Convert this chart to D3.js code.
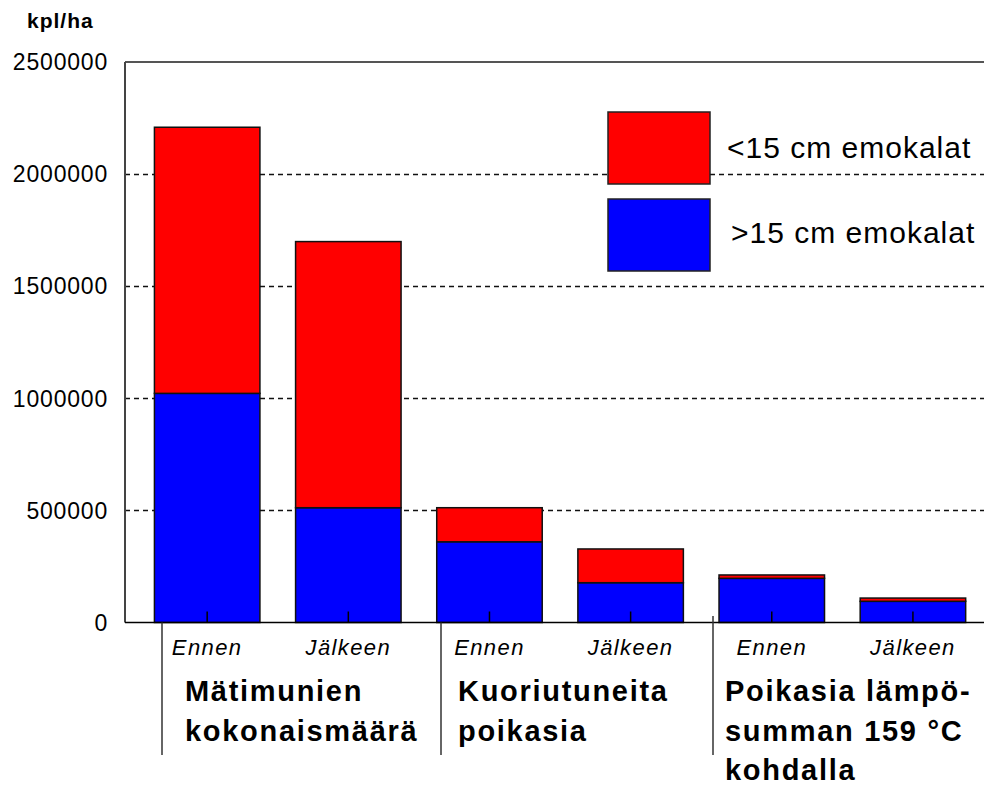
<!DOCTYPE html>
<html>
<head>
<meta charset="utf-8">
<script src="https://cdn.jsdelivr.net/npm/d3@7"></script>
<style>
	body { margin: 0; background: #fff; }
	text { font-family: "Liberation Sans", Arial, sans-serif; fill: #000; }
</style>
</head>
<body>
<div id="main"></div>
<script>
// Data (kpl/ha)
var categories = ["Ennen", "Jälkeen", "Ennen", "Jälkeen", "Ennen", "Jälkeen"];
var groupIndex = [0, 0, 1, 1, 2, 2];
var yli15 = [1022000, 512000, 360000, 177500, 197000, 94500];    // >15 cm emokalat (blue)
var alle15 = [1187000, 1187000, 152000, 150500, 15000, 14500];   // <15 cm emokalat (red)
var yTicks = [0, 500000, 1000000, 1500000, 2000000, 2500000];
var groupLabels = [
	["Mätimunien", "kokonaismäärä"],
	["Kuoriutuneita", "poikasia"],
	["Poikasia lämpö-", "summan 159 °C", "kohdalla"]
];
var seriesKeys = ["yli15", "alle15"];
var seriesNames = { yli15: ">15 cm emokalat", alle15: "<15 cm emokalat" };
var seriesColors = { yli15: "#0000ff", alle15: "#ff0000" };

// Layout constants
var width = 984;
var height = 788;
var plotLeft = 125;
var plotTop = 62;
var plotBottom = 622.5;
var plotRight = 984;

// Table for the stack
var rows = categories.map(function(c, i) {
	return { id: i, cat: c, yli15: yli15[i], alle15: alle15[i] };
});

var svg = d3.select("#main").append("svg")
	.attr("width", width)
	.attr("height", height);

var x = d3.scaleBand()
	.domain(rows.map(function(d) { return d.id; }))
	.range([136.6, 983.5])
	.paddingInner(0.2526)
	.paddingOuter(0.1263);

var y = d3.scaleLinear()
	.domain([0, 2500000])
	.range([plotBottom, plotTop]);

// Dashed grid lines
svg.append("g").selectAll("line")
	.data(yTicks.filter(function(t) { return t > 0 && t < 2500000; }))
	.enter().append("line")
	.attr("x1", plotLeft)
	.attr("x2", plotRight)
	.attr("y1", function(d) { return Math.round(y(d)) + 0.5; })
	.attr("y2", function(d) { return Math.round(y(d)) + 0.5; })
	.attr("stroke", "#111")
	.attr("stroke-width", 1.4)
	.attr("stroke-dasharray", "5,4");

// Frame: top and left
svg.append("line")
	.attr("x1", plotLeft).attr("x2", plotRight)
	.attr("y1", plotTop).attr("y2", plotTop)
	.attr("stroke", "#555").attr("stroke-width", 2);
svg.append("line")
	.attr("x1", plotLeft).attr("x2", plotLeft)
	.attr("y1", plotTop).attr("y2", plotBottom)
	.attr("stroke", "#444").attr("stroke-width", 2);

// Y tick labels
svg.append("g").selectAll("text")
	.data(yTicks)
	.enter().append("text")
	.attr("x", 108)
	.attr("y", function(d) { return y(d); })
	.attr("dy", "0.36em")
	.attr("text-anchor", "end")
	.attr("font-size", 23)
	.attr("letter-spacing", 0.8)
	.text(function(d) { return d; });

svg.append("text")
	.attr("x", 27)
	.attr("y", 28)
	.attr("font-size", 21)
	.attr("font-weight", "bold")
	.attr("letter-spacing", 1)
	.text("kpl/ha");

// Stacked bars
var stacked = d3.stack().keys(seriesKeys)(rows);

svg.append("g").selectAll("g")
	.data(stacked)
	.enter().append("g")
	.attr("fill", function(s) { return seriesColors[s.key]; })
	.selectAll("rect")
	.data(function(s) { return s; })
	.enter().append("rect")
	.attr("x", function(d) { return x(d.data.id); })
	.attr("y", function(d) { return y(d[1]); })
	.attr("width", x.bandwidth())
	.attr("height", function(d) { return y(d[0]) - y(d[1]); })
	.attr("stroke", "#111")
	.attr("stroke-width", 1.5);

// X axis line and inner ticks
svg.append("line")
	.attr("x1", plotLeft).attr("x2", plotRight)
	.attr("y1", plotBottom).attr("y2", plotBottom)
	.attr("stroke", "#000").attr("stroke-width", 1.5);

svg.append("g").selectAll("line")
	.data(rows)
	.enter().append("line")
	.attr("x1", function(d) { return x(d.id) + x.bandwidth() / 2; })
	.attr("x2", function(d) { return x(d.id) + x.bandwidth() / 2; })
	.attr("y1", plotBottom)
	.attr("y2", plotBottom - 11)
	.attr("stroke", "#000")
	.attr("stroke-width", 1.5);

// Ennen / Jälkeen labels
svg.append("g").selectAll("text")
	.data(rows)
	.enter().append("text")
	.attr("x", function(d) { return x(d.id) + x.bandwidth() / 2; })
	.attr("y", 655)
	.attr("text-anchor", "middle")
	.attr("font-size", 22)
	.attr("font-style", "italic")
	.attr("letter-spacing", 1.4)
	.text(function(d) { return d.cat; });

// Group dividers and group labels
var dividerX = [162, 441, 713];
var dividerTop = [plotBottom, plotBottom, 616];
var labelX = [185, 458, 725];

dividerX.forEach(function(dx, i) {
	svg.append("line")
		.attr("x1", dx).attr("x2", dx)
		.attr("y1", dividerTop[i]).attr("y2", 755)
		.attr("stroke", "#333")
		.attr("stroke-width", 1.5);
});

groupLabels.forEach(function(lines, i) {
	var t = svg.append("text")
		.attr("x", labelX[i])
		.attr("y", 701)
		.attr("font-size", 29)
		.attr("font-weight", "bold")
		.attr("letter-spacing", 1.7);
	lines.forEach(function(l, j) {
		t.append("tspan")
			.attr("x", labelX[i])
			.attr("y", 701 + j * 39.5)
			.text(l);
	});
});

// Legend
var legendItems = [
	{ key: "alle15", rx: 608, ry: 112, tx: 727, ty: 158 },
	{ key: "yli15", rx: 608, ry: 199, tx: 731, ty: 243 }
];

var legend = svg.append("g").selectAll("g")
	.data(legendItems)
	.enter().append("g");

legend.append("rect")
	.attr("x", function(d) { return d.rx; })
	.attr("y", function(d) { return d.ry; })
	.attr("width", 102)
	.attr("height", 72)
	.attr("fill", function(d) { return seriesColors[d.key]; })
	.attr("stroke", "#222")
	.attr("stroke-width", 1.5);

legend.append("text")
	.attr("x", function(d) { return d.tx; })
	.attr("y", function(d) { return d.ty; })
	.attr("font-size", 30)
	.attr("letter-spacing", 1)
	.text(function(d) { return seriesNames[d.key]; });
</script>
</body>
</html>
